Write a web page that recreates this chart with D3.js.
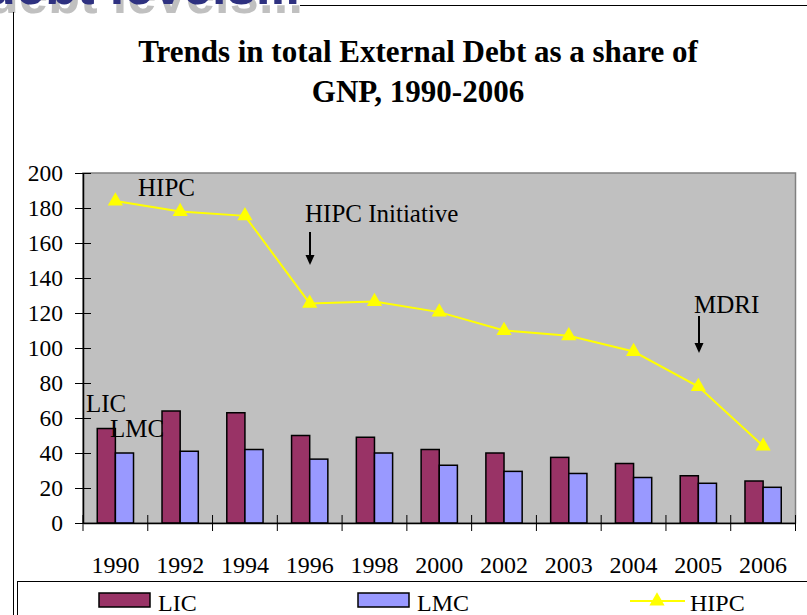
<!DOCTYPE html>
<html>
<head>
<meta charset="utf-8">
<script src="https://cdn.jsdelivr.net/npm/d3@7"></script>
<style>
  body { margin: 0; background: #fff; }
  svg { display: block; font-family: "Liberation Serif", "Times New Roman", serif; }
  .serif text { font-family: "Liberation Serif", "Times New Roman", serif; }
</style>
</head>
<body>
<div id="chart"></div>
<script>
const years = ['1990', '1992', '1994', '1996', '1998', '2000', '2002', '2003', '2004', '2005', '2006'];
const lic = [54, 64, 63, 50, 49, 42, 40, 37.5, 34, 27, 24];
const lmc = [40, 41, 42, 36.5, 40, 33, 29.5, 28.3, 26, 22.7, 20.4];
const hipc = [184, 178, 175.5, 125.5, 126.5, 120.5, 110, 107, 98, 78, 44];
const yTicks = [0, 20, 40, 60, 80, 100, 120, 140, 160, 180, 200];

const W = 807, H = 615;
const svg = d3.select('#chart').append('svg').attr('width', W).attr('height', H);

// cut-off heading from the slide above
const head = svg.append('g').attr('font-family', 'Liberation Sans, Arial, sans-serif')
  .attr('font-weight', 'bold').attr('font-size', 52);
head.append('text').attr('x', -13).attr('y', 13).attr('fill', '#c0c0c0')
  .attr('textLength', 316).text('debt levels...');
head.append('text').attr('x', -16).attr('y', 4).attr('fill', '#2e3180')
  .attr('textLength', 316).text('debt levels...');

// chart frame
svg.append('line').attr('x1', 300).attr('x2', W).attr('y1', 5.5).attr('y2', 5.5).attr('stroke', '#000');
svg.append('line').attr('x1', 13.5).attr('x2', 13.5).attr('y1', 12).attr('y2', H).attr('stroke', '#000');

svg.append('text').attr('x', 418).attr('y', 62).attr('text-anchor', 'middle')
  .attr('font-weight', 'bold').attr('font-size', 31).text('Trends in total External Debt as a share of');
svg.append('text').attr('x', 418).attr('y', 102).attr('text-anchor', 'middle')
  .attr('font-weight', 'bold').attr('font-size', 31).text('GNP, 1990-2006');

const x = d3.scaleBand().domain(years).range([83, 795.5]).paddingInner(0);
const bw = x.bandwidth();
const x1 = d3.scaleBand().domain(['LIC', 'LMC']).range([bw * 0.22, bw * 0.78]);
const y = d3.scaleLinear().domain([0, 200]).range([523, 173]);

svg.append('rect').attr('x', 83).attr('y', 173).attr('width', 795.5 - 83).attr('height', 350)
  .attr('fill', '#c0c0c0').attr('stroke', '#808080').attr('stroke-width', 1.5);

// bars
const groups = svg.append('g').selectAll('g').data(years).join('g')
  .attr('transform', d => `translate(${x(d)},0)`);
groups.append('rect').attr('x', x1('LIC')).attr('width', x1.bandwidth())
  .attr('y', (d, i) => y(lic[i])).attr('height', (d, i) => y(0) - y(lic[i]))
  .attr('fill', '#993366').attr('stroke', '#000').attr('stroke-width', 1.5);
groups.append('rect').attr('x', x1('LMC')).attr('width', x1.bandwidth())
  .attr('y', (d, i) => y(lmc[i])).attr('height', (d, i) => y(0) - y(lmc[i]))
  .attr('fill', '#9999ff').attr('stroke', '#000').attr('stroke-width', 1.5);

// axes
const yAxis = svg.append('g').attr('class', 'serif').attr('transform', 'translate(83,0)')
  .call(d3.axisLeft(y).tickValues(yTicks).tickSizeInner(8).tickSizeOuter(0).tickPadding(12));
yAxis.selectAll('.tick line').attr('x2', -8).attr('x1', 8);
yAxis.selectAll('text').attr('font-size', 23.5).attr('fill', '#000');
yAxis.select('.domain').attr('stroke-width', 1.5);

const xAxis = svg.append('g').attr('class', 'serif').attr('transform', 'translate(0,523)')
  .call(d3.axisBottom(x).tickSize(0).tickPadding(33));
xAxis.selectAll('text').attr('font-size', 24).attr('fill', '#000');
xAxis.select('.domain').attr('stroke-width', 1.5);
svg.append('g').selectAll('line').data(years.concat(['end'])).join('line')
  .attr('x1', (d, i) => x.range()[0] + i * bw).attr('x2', (d, i) => x.range()[0] + i * bw)
  .attr('y1', 515).attr('y2', 531).attr('stroke', '#000');

// HIPC line
const cx = (d, i) => x(years[i]) + bw / 2;
const line = d3.line().x((d, i) => cx(d, i)).y(d => y(d));
svg.append('path').datum(hipc).attr('d', line).attr('fill', 'none')
  .attr('stroke', '#ffff00').attr('stroke-width', 2);
const tri = d3.symbol().type(d3.symbolTriangle).size(100);
svg.append('g').selectAll('path').data(hipc).join('path')
  .attr('d', tri).attr('transform', (d, i) => `translate(${cx(d, i)},${y(d)})`)
  .attr('fill', '#ffff00');

// annotations
const ann = svg.append('g').attr('font-size', 25);
ann.append('text').attr('x', 138).attr('y', 196).text('HIPC');
ann.append('text').attr('x', 305).attr('y', 222).text('HIPC Initiative');
ann.append('text').attr('x', 694).attr('y', 313).text('MDRI');
ann.append('text').attr('x', 86).attr('y', 412).text('LIC');
ann.append('text').attr('x', 110).attr('y', 437).text('LMC');

const arrow = (ax, ay1, ay2) => {
  svg.append('line').attr('x1', ax).attr('x2', ax).attr('y1', ay1).attr('y2', ay2 - 8)
    .attr('stroke', '#000').attr('stroke-width', 2);
  svg.append('path').attr('d', `M${ax - 4.5},${ay2 - 10}L${ax + 4.5},${ay2 - 10}L${ax},${ay2}Z`).attr('fill', '#000');
};
arrow(310, 232, 265);
arrow(699, 316, 353);

// legend
svg.append('rect').attr('x', 17.5).attr('y', 581.5).attr('width', W).attr('height', 60)
  .attr('fill', '#fff').attr('stroke', '#000');
const lg = svg.append('g').attr('font-size', 24);
lg.append('rect').attr('x', 99).attr('y', 593).attr('width', 51).attr('height', 14)
  .attr('fill', '#993366').attr('stroke', '#000').attr('stroke-width', 1.5);
lg.append('text').attr('x', 158).attr('y', 611).text('LIC');
lg.append('rect').attr('x', 358).attr('y', 593).attr('width', 51).attr('height', 14)
  .attr('fill', '#9999ff').attr('stroke', '#000').attr('stroke-width', 1.5);
lg.append('text').attr('x', 417).attr('y', 611).text('LMC');
lg.append('line').attr('x1', 630).attr('x2', 685).attr('y1', 601).attr('y2', 601)
  .attr('stroke', '#ffff00').attr('stroke-width', 2);
lg.append('path').attr('d', tri).attr('transform', 'translate(657,601)').attr('fill', '#ffff00');
lg.append('text').attr('x', 690).attr('y', 611).text('HIPC');
</script>
</body>
</html>
